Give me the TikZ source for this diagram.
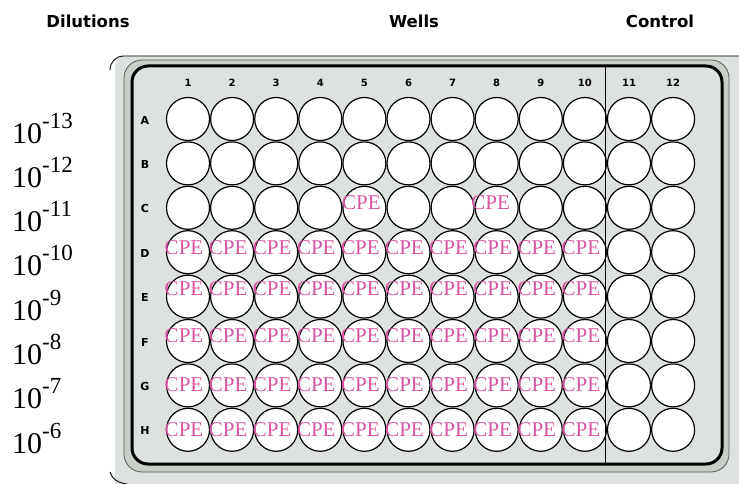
\documentclass[tikz,border=0pt]{standalone}
\usepackage{fontspec}
\setmainfont{Liberation Serif}
\newfontfamily\labelfont{DejaVu Sans}
\usepackage{xcolor}
\usepackage{tikz}

\definecolor{platebg}{RGB}{222,226,222}
\definecolor{rimbg}{RGB}{200,206,200}
\definecolor{cpecol}{RGB}{214,84,160}

\begin{document}
\begin{tikzpicture}[x=1pt, y=-1pt,
    heading/.style={font=\labelfont\bfseries\fontsize{16.5}{16.5}\selectfont, inner sep=0pt},
    colnum/.style={font=\labelfont\bfseries\fontsize{10}{10}\selectfont, inner sep=0pt},
    rowlbl/.style={font=\labelfont\bfseries\fontsize{11}{11}\selectfont, inner sep=0pt},
    well/.style={circle, draw, line width=1.2pt, fill=white, minimum size=43pt, inner sep=0pt},
    cpe/.style={text=cpecol, font=\fontsize{21}{21}\selectfont, inner sep=0pt},
    dil/.style={anchor=base west, inner sep=0pt, font=\fontsize{30}{30}\selectfont},
    outline/.style={line width=0.9pt}]

    \useasboundingbox (0,0) rectangle (739,484);

    % plate body
    \fill[platebg] (115,490) -- (115,68) .. controls (115,61) and (118,56) .. (126,56) -- (760,56) -- (760,490) -- cycle;
    \draw[outline] (110,70) .. controls (110,62) and (116,56) .. (124,56) -- (760,56);
    \draw[outline] (110,472) .. controls (112,479) and (118,483) .. (127,484);
    \draw[gray!70!black, line width=0.8pt, fill=rimbg, rounded corners=18pt] (124,60) rectangle (729,472);
    \draw[line width=3pt, fill=platebg, rounded corners=16pt] (132,66) rectangle (722,464);

    % headings
    \node[heading] (hdil) at (88,21) {Dilutions};
    \node[heading] (hwells) at (414,21) {Wells};
    \node[heading] (hctrl) at (660,21) {Control};

    % column numbers and row letters
    \foreach \c in {1,...,12}
        \node[colnum] (n\c) at ({188+44.1*(\c-1)},83) {\c};
    \foreach \r [count=\i from 0] in {A,B,C,D,E,F,G,H}
        \node[rowlbl] (l\r) at (145,{120+44.4*\i}) {\r};

    % wells
    \foreach \r [count=\i from 0] in {A,B,C,D,E,F,G,H}
        \foreach \c in {1,...,12}
            \node[well] (w\r\c) at ({188+44.1*(\c-1)},{119+44.4*\i}) {};

    % control divider
    \coordinate (divtop) at (605,66);
    \coordinate (divbot) at (605,464);
    \draw[line width=1pt] (divtop) -- (divbot);

    % CPE marks
    \node[cpe, xshift=-3pt, yshift=5pt] (cC5) at (wC5) {CPE};
    \node[cpe, xshift=-6pt, yshift=5pt] (cC8) at (wC8) {CPE};
    \foreach \r/\dy in {D/5,E/8,F/5,G/1,H/0}
        \foreach \c in {1,...,10}
            \node[cpe, xshift=-4pt, yshift=\dy pt] (c\r\c) at (w\r\c) {CPE};

    % dilution labels
    \foreach \e [count=\i from 0] in {13,12,11,10,9,8,7,6}
        \node[dil] (d\e) at (12,{143+44.3*\i}) {10\raisebox{15pt}{\fontsize{23}{23}\selectfont -\e}};
\end{tikzpicture}
\end{document}
